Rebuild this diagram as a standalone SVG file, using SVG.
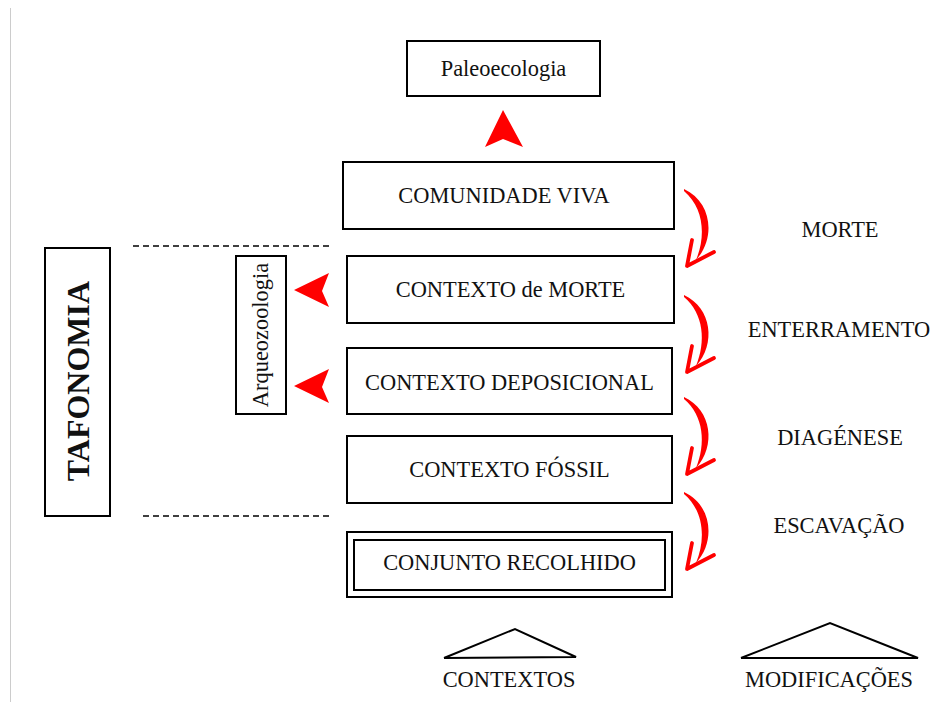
<svg xmlns="http://www.w3.org/2000/svg" width="932" height="702" viewBox="0 0 932 702">
<defs>
<style>
.box{fill:#fff;stroke:#000;stroke-width:2}
.t{font-family:"Liberation Serif","Times New Roman",serif;font-size:22.4px;fill:#111;text-anchor:middle}
.dash{stroke:#000;stroke-width:1.5;stroke-dasharray:6 4;fill:none}
.red{fill:#f00}
.tri{fill:none;stroke:#000;stroke-width:2;stroke-linejoin:miter}
</style>
<g id="curl">
<path class="red" d="M684,189 C712,202 716,238 696,260 C706,236 704,208 684,191 Z"/>
<polyline points="692,240 687,266 714,252" fill="none" stroke="#f00" stroke-width="3.8" stroke-linecap="round" stroke-linejoin="round"/>
</g>
</defs>
<rect width="932" height="702" fill="#fff"/>
<line x1="10.5" y1="8" x2="10.5" y2="702" stroke="#ccc" stroke-width="1"/>

<g id="paleoecologia"><rect class="box" x="407" y="41" width="193" height="55"/><text class="t" x="503.5" y="76">Paleoecologia</text></g>
<g id="comunidade"><rect class="box" x="343" y="162" width="331" height="67"/><text class="t" x="504" y="203">COMUNIDADE VIVA</text></g>
<g id="morte"><rect class="box" x="347" y="256" width="327" height="67"/><text class="t" x="510.5" y="297">CONTEXTO de MORTE</text></g>
<g id="deposicional"><rect class="box" x="347" y="348" width="325" height="66"/><text class="t" x="509.5" y="390">CONTEXTO DEPOSICIONAL</text></g>
<g id="fossil"><rect class="box" x="347" y="436" width="325" height="67"/><text class="t" x="509.5" y="477">CONTEXTO FÓSSIL</text></g>
<g id="recolhido"><rect class="box" x="347" y="532" width="325" height="65"/><rect class="box" x="354" y="540" width="311" height="50"/><text class="t" x="509.5" y="570">CONJUNTO RECOLHIDO</text></g>
<g id="tafonomia"><rect class="box" x="45" y="248" width="65" height="268"/><text class="t" transform="translate(89,381) rotate(-90)" style="font-size:32px;font-weight:bold">TAFONOMIA</text></g>
<g id="arqueozoologia"><rect class="box" x="236" y="256" width="50" height="158"/><text class="t" transform="translate(268,335) rotate(-90)">Arqueozoologia</text></g>

<g id="labels">
<text class="t" x="840" y="237">MORTE</text>
<text class="t" x="839" y="337">ENTERRAMENTO</text>
<text class="t" x="840" y="445">DIAGÉNESE</text>
<text class="t" x="839" y="533">ESCAVAÇÃO</text>
<g id="contextos"><polyline class="tri" points="444,658 515,629 576,657 444,658"/><text class="t" x="509" y="687">CONTEXTOS</text></g>
<g id="modificacoes"><polyline class="tri" points="741,658 830,623 918,658 741,658"/><text class="t" x="829" y="687">MODIFICAÇÕES</text></g>
</g>

<g id="connectors">
<line class="dash" x1="133" y1="246" x2="330" y2="246"/>
<line class="dash" x1="143" y1="516" x2="330" y2="516"/>
<polygon class="red" points="503,110 523,147 503,139 485,147"/>
<polygon class="red" points="294,290 329,273 322,291 329,307"/>
<polygon class="red" points="294,386 329,369 322,387 329,403"/>
<use href="#curl"/>
<use href="#curl" transform="translate(0,106)"/>
<use href="#curl" transform="translate(0,208)"/>
<use href="#curl" transform="translate(0,303)"/>
</g>
</svg>
